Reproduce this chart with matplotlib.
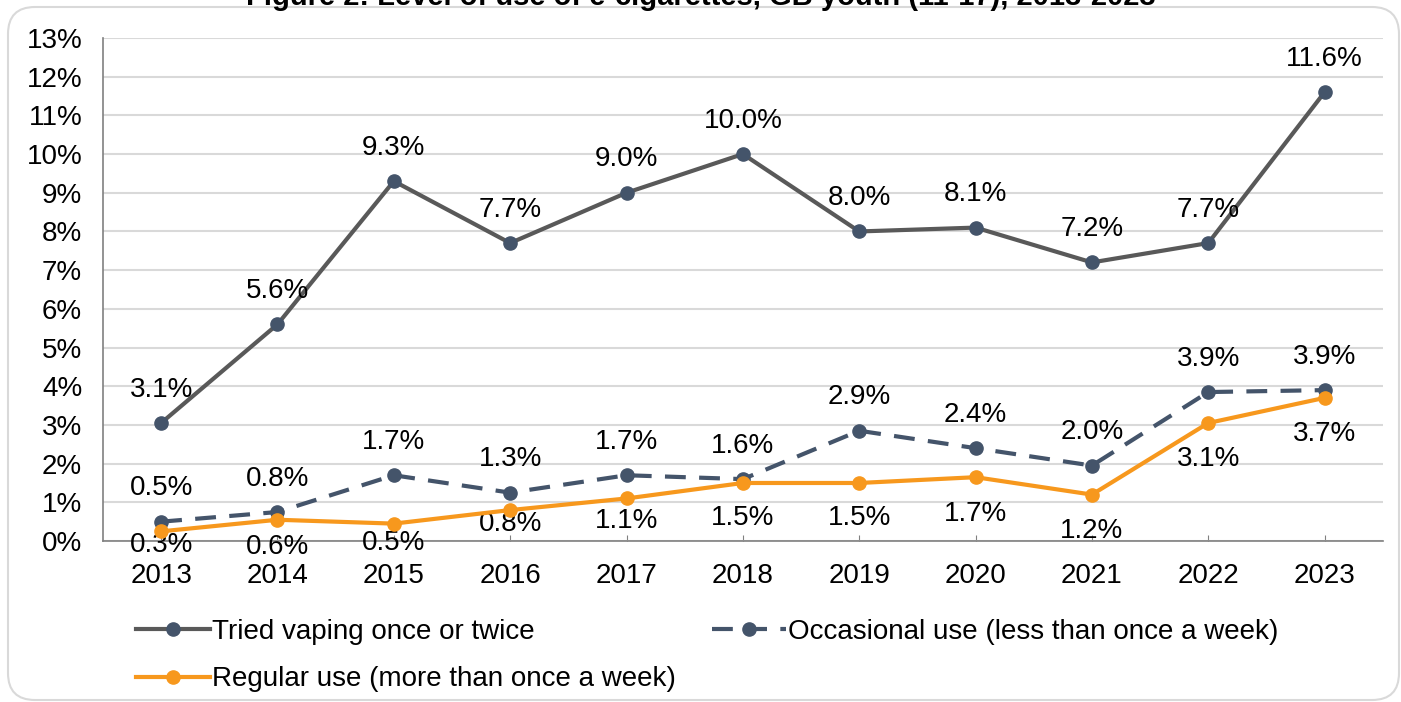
import matplotlib.pyplot as plt
from matplotlib.patches import FancyBboxPatch
from matplotlib.ticker import FuncFormatter

plt.rcParams['font.family'] = ['Liberation Sans', 'DejaVu Sans']

years = ['2013', '2014', '2015', '2016', '2017', '2018', '2019', '2020', '2021', '2022', '2023']
tried = [3.05, 5.6, 9.3, 7.7, 9.0, 10.0, 8.0, 8.1, 7.2, 7.7, 11.6]
occasional = [0.5, 0.75, 1.7, 1.25, 1.7, 1.6, 2.85, 2.4, 1.95, 3.85, 3.9]
regular = [0.25, 0.55, 0.45, 0.8, 1.1, 1.5, 1.5, 1.65, 1.2, 3.05, 3.7]
tried_lbl = ['3.1%', '5.6%', '9.3%', '7.7%', '9.0%', '10.0%', '8.0%', '8.1%', '7.2%', '7.7%', '11.6%']
occ_lbl = ['0.5%', '0.8%', '1.7%', '1.3%', '1.7%', '1.6%', '2.9%', '2.4%', '2.0%', '3.9%', '3.9%']
reg_lbl = ['0.3%', '0.6%', '0.5%', '0.8%', '1.1%', '1.5%', '1.5%', '1.7%', '1.2%', '3.1%', '3.7%']

# label offsets below the orange points (points), squeezed near the axis like Excel does
reg_off = [10, 19.5, 14, 10, 16, 25, 25, 26.5, 26.5, 26, 26]

c_grey = '#595959'
c_blue = '#44546A'
c_orange = '#F7981D'
fs = 20

fig = plt.figure(figsize=(14.01, 7.02), dpi=100)
fig.patches.append(FancyBboxPatch((0.08, 0.02), 13.91, 6.93, transform=fig.dpi_scale_trans,
                                  boxstyle='round,pad=0,rounding_size=0.27',
                                  fc='white', ec='#D9D9D9', lw=1.5, zorder=-1))
fig.text(0.5, 1 - 5 / 702, 'Figure 2: Level of use of e-cigarettes, GB youth (11-17), 2013-2023',
         ha='center', va='baseline', fontsize=21, fontweight='bold')

ax = fig.add_axes([0.0735, 0.2293, 0.9135, 0.7166])
ax.set_facecolor('none')
x = range(len(years))
ax.plot(x, tried, color=c_grey, lw=3, marker='o', ms=9.5, mfc=c_blue, mec=c_blue,
        label='Tried vaping once or twice', zorder=3)
ax.plot(x, regular, color=c_orange, lw=3, marker='o', ms=9.5,
        label='Regular use (more than once a week)', zorder=4)
ax.plot(x, occasional, color=c_blue, lw=3, ls=(0, (5, 3.2)), marker='o', ms=9.5,
        label='Occasional use (less than once a week)', zorder=3)

for i in x:
    ax.annotate(tried_lbl[i], (i, tried[i]), xytext=(0, 24), textcoords='offset points',
                ha='center', va='center', fontsize=fs)
    ax.annotate(occ_lbl[i], (i, occasional[i]), xytext=(0, 24), textcoords='offset points',
                ha='center', va='center', fontsize=fs)
    ax.annotate(reg_lbl[i], (i, regular[i]), xytext=(0, -reg_off[i]), textcoords='offset points',
                ha='center', va='center', fontsize=fs)

ax.set_xlim(-0.5, 10.5)
ax.set_ylim(0, 13)
ax.set_yticks(range(0, 14))
ax.yaxis.set_major_formatter(FuncFormatter(lambda v, p: f'{v:.0f}%'))
ax.set_xticks(list(x))
ax.set_xticklabels(years)
ax.tick_params(axis='y', labelsize=fs, length=0, pad=15)
ax.tick_params(axis='x', labelsize=fs, length=4, direction='in', color='#808080', pad=16)
ax.grid(axis='y', color='#D9D9D9', lw=1.5)
ax.set_axisbelow(True)
for s in ['top', 'right']:
    ax.spines[s].set_visible(False)
for s in ['left', 'bottom']:
    ax.spines[s].set_color('#808080')
    ax.spines[s].set_linewidth(1.2)

fig.legend(loc='center left', bbox_to_anchor=(0.097, 0.066), ncol=2, frameon=False,
           fontsize=fs, handlelength=2.66, handletextpad=0.08, columnspacing=1.3,
           labelspacing=0.77, borderaxespad=0, borderpad=0)

fig.savefig('out.png', dpi=100)
